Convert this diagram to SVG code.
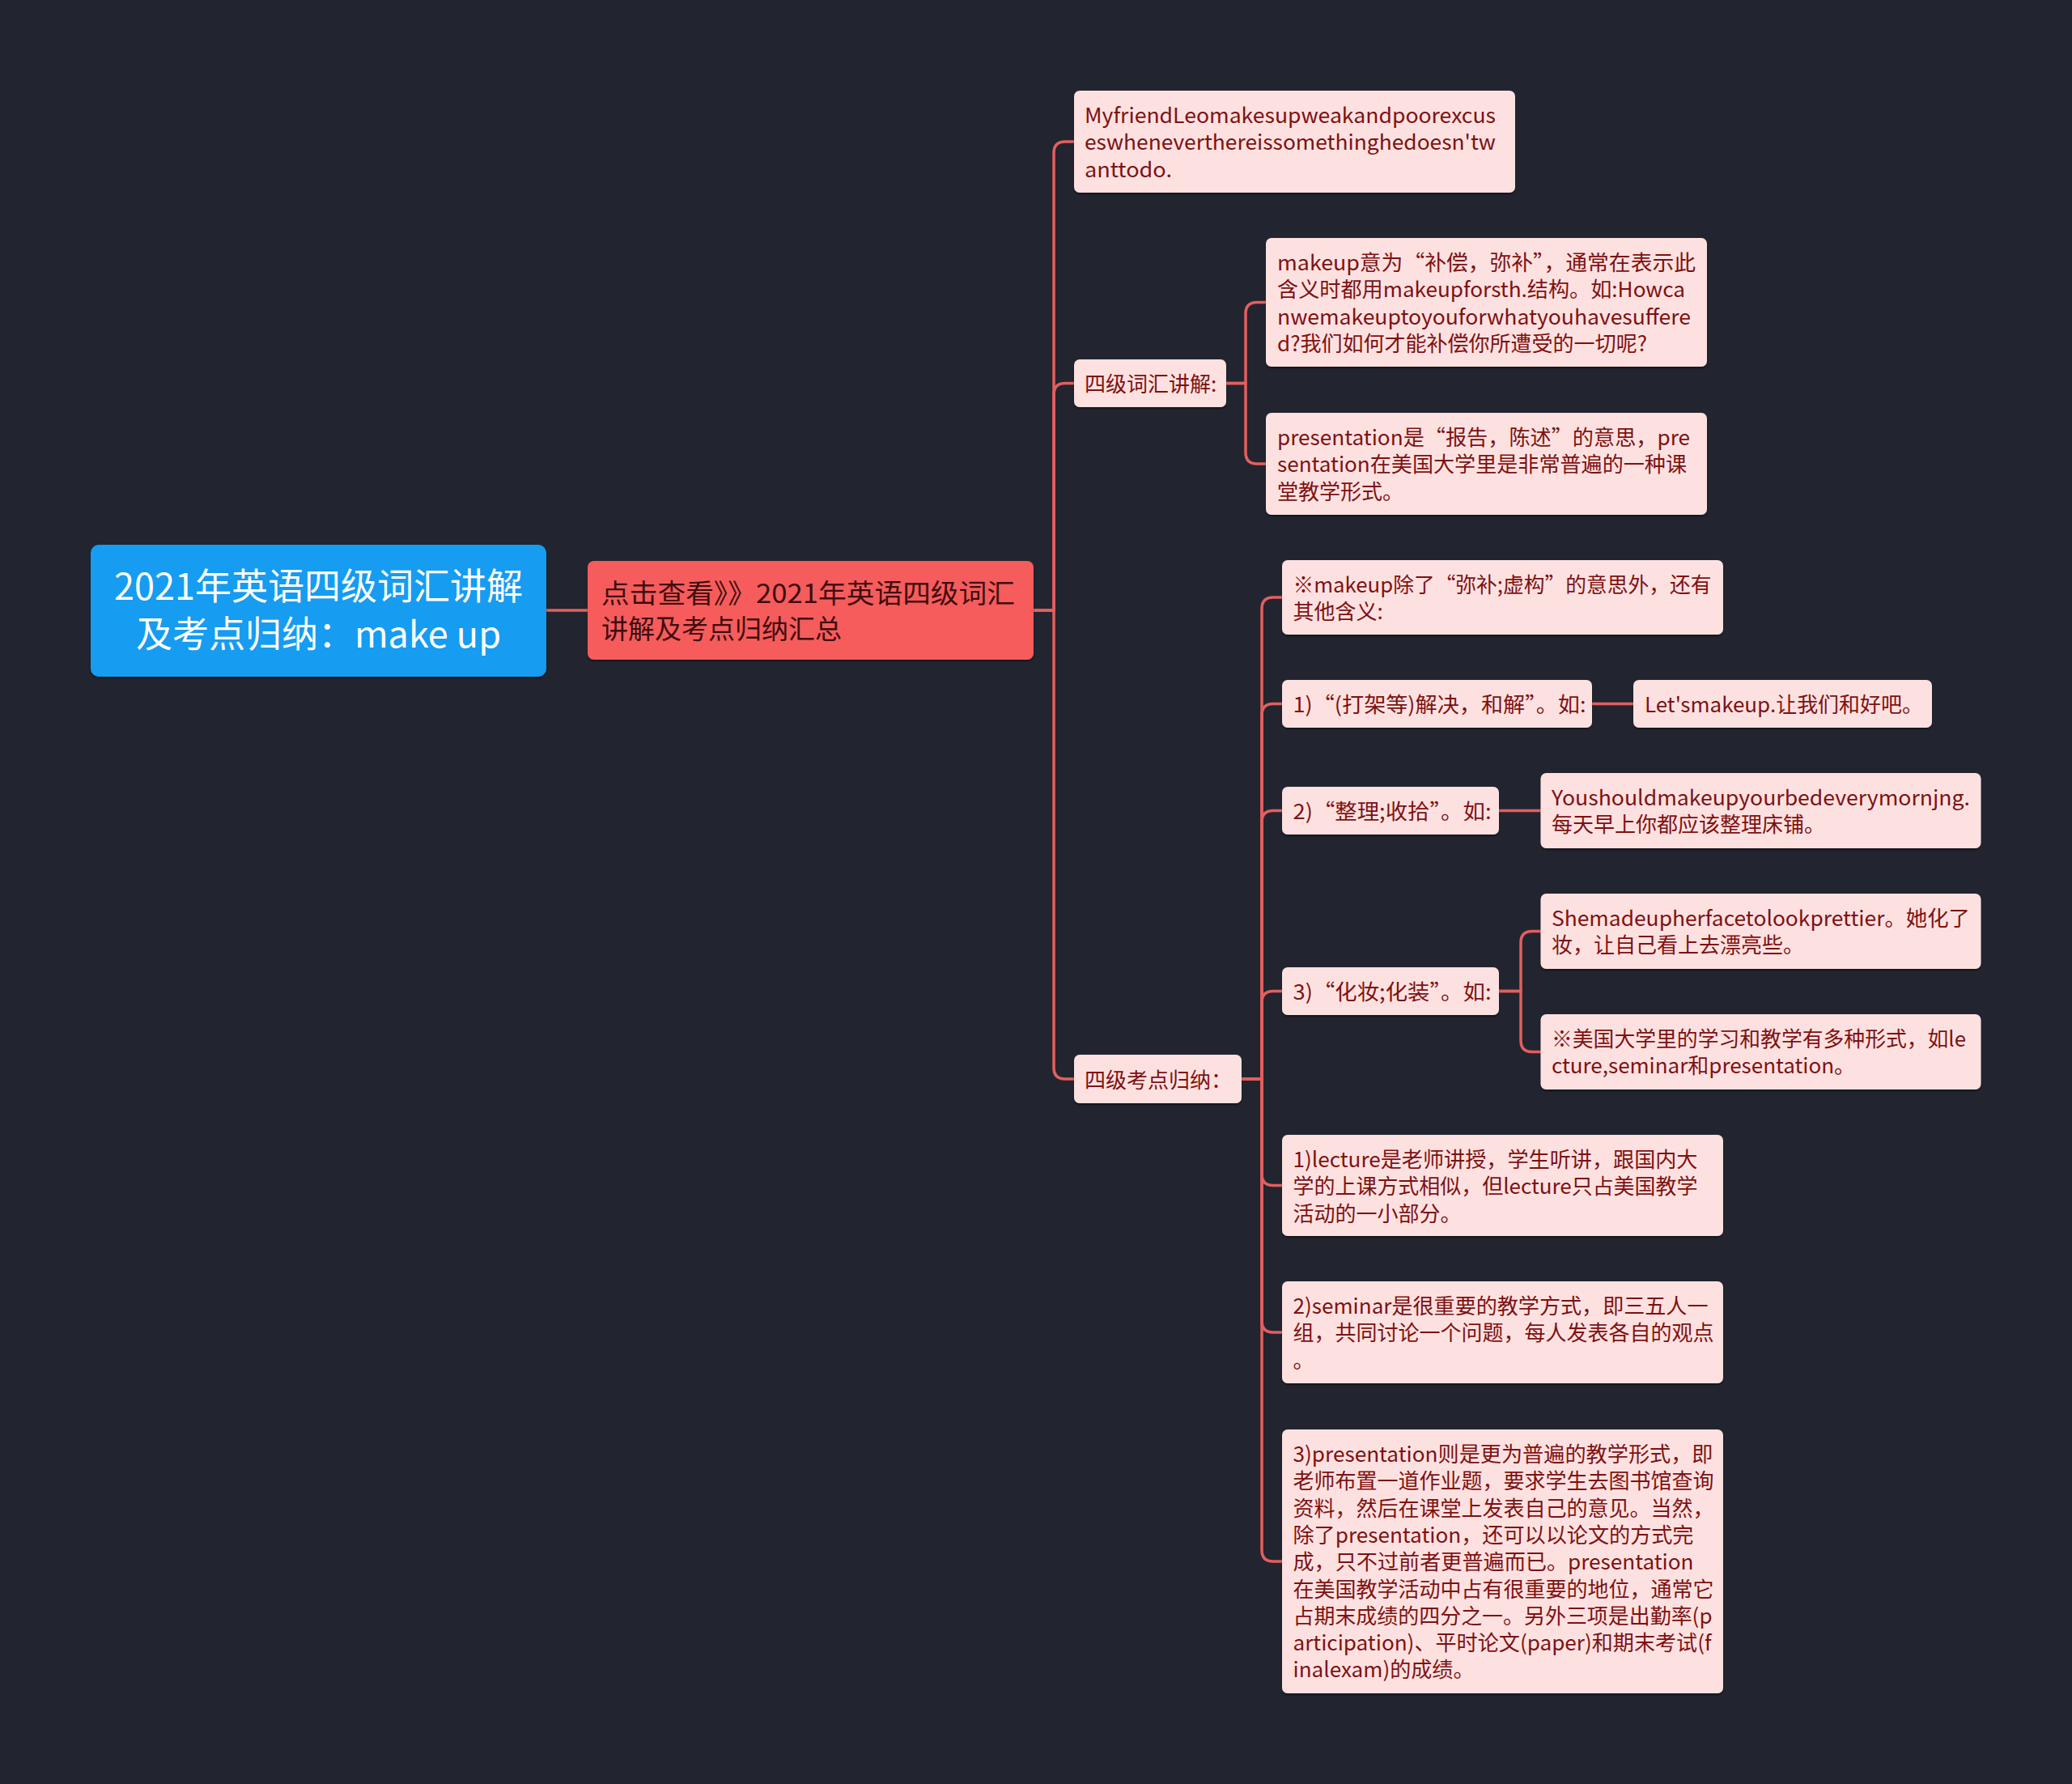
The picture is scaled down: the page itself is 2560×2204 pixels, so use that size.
<svg xmlns="http://www.w3.org/2000/svg" width="2560" height="2204" viewBox="0 0 2560 2204">
<defs>
<style>
.bg{fill:#22252f}
.leaf{fill:#fde1e1;filter:url(#sh)}
.t{font-family:"Noto Sans CJK SC","Noto Sans",sans-serif;font-size:26px;fill:#7e1111}
.rt{font-family:"Noto Sans CJK SC","Noto Sans",sans-serif;font-size:45px;fill:#ffffff;text-anchor:middle}
.st{font-family:"Noto Sans CJK SC","Noto Sans",sans-serif;font-size:33px;fill:#3f0d0d}
.c{fill:none;stroke:#e35f5f;stroke-width:3.5;stroke-linecap:round;stroke-linejoin:round}
</style>
<filter id="sh" x="-5%" y="-10%" width="110%" height="130%">
<feDropShadow dx="0" dy="2" stdDeviation="1.2" flood-color="#000" flood-opacity="0.45"/>
</filter>
</defs>
<rect class="bg" x="0" y="0" width="2560" height="2204"/>

<g id="connectors">
<path class="c" d="M675 754 H726"/>
<path class="c" d="M1277 754 H1302 V189 Q1302 175 1316 175 H1327"/>
<path class="c" d="M1277 754 H1302 V487.5 Q1302 473.5 1316 473.5 H1327"/>
<path class="c" d="M1277 754 H1302 V1319 Q1302 1333 1316 1333 H1327"/>
<path class="c" d="M1515 473.5 H1539 V387.5 Q1539 373.5 1553 373.5 H1564"/>
<path class="c" d="M1515 473.5 H1539 V559 Q1539 573 1553 573 H1564"/>
<path class="c" d="M1534 1333 H1559 V752 Q1559 738 1573 738 H1584"/>
<path class="c" d="M1534 1333 H1559 V883.5 Q1559 869.5 1573 869.5 H1584"/>
<path class="c" d="M1534 1333 H1559 V1015.5 Q1559 1001.5 1573 1001.5 H1584"/>
<path class="c" d="M1534 1333 H1559 V1238.5 Q1559 1224.5 1573 1224.5 H1584"/>
<path class="c" d="M1534 1333 H1559 V1450.5 Q1559 1464.5 1573 1464.5 H1584"/>
<path class="c" d="M1534 1333 H1559 V1632 Q1559 1646 1573 1646 H1584"/>
<path class="c" d="M1534 1333 H1559 V1915 Q1559 1929 1573 1929 H1584"/>
<path class="c" d="M1967 869.5 H2018"/>
<path class="c" d="M1852 1001.5 H1903.5"/>
<path class="c" d="M1852 1224.5 H1879 V1164.5 Q1879 1150.5 1893 1150.5 H1903.5"/>
<path class="c" d="M1852 1224.5 H1879 V1285.5 Q1879 1299.5 1893 1299.5 H1903.5"/>
</g>

<g id="root">
<rect x="112" y="673" width="563" height="163" rx="10" fill="#199cf1" filter="url(#sh)"/>
<text class="rt" x="393.5" y="741">2021年英语四级词汇讲解</text>
<text class="rt" x="393.5" y="800">及考点归纳：make up</text>
</g>

<g id="n-summary">
<rect x="726" y="693" width="551" height="122" rx="8" fill="#f65b5b" filter="url(#sh)"/>
<text class="st" x="743" y="744.5" textLength="511" lengthAdjust="spacingAndGlyphs">点击查看》》2021年英语四级词汇</text>
<text class="st" x="743" y="788.5">讲解及考点归纳汇总</text>
</g>

<g id="n-example">
<rect class="leaf" x="1327" y="112" width="545" height="126" rx="7"/>
<text class="t" x="1340" y="152" textLength="508" lengthAdjust="spacingAndGlyphs">MyfriendLeomakesupweakandpoorexcus</text>
<text class="t" x="1340" y="185.3" textLength="508" lengthAdjust="spacingAndGlyphs">eswheneverthereissomethinghedoesn'tw</text>
<text class="t" x="1340" y="218.6" textLength="108" lengthAdjust="spacingAndGlyphs">anttodo.</text>
</g>

<g id="n-vocab">
<rect class="leaf" x="1327" y="444" width="188" height="59" rx="7"/>
<text class="t" x="1340" y="484">四级词汇讲解:</text>
</g>

<g id="n-makeup">
<rect class="leaf" x="1564" y="294" width="545" height="159" rx="7"/>
<text class="t" x="1578" y="334" textLength="517" lengthAdjust="spacingAndGlyphs">makeup意为“补偿，弥补”，通常在表示此</text>
<text class="t" x="1578" y="367.3" textLength="504" lengthAdjust="spacingAndGlyphs">含义时都用makeupforsth.结构。如:Howca</text>
<text class="t" x="1578" y="400.6" textLength="511" lengthAdjust="spacingAndGlyphs">nwemakeuptoyouforwhatyouhavesuffere</text>
<text class="t" x="1578" y="433.9" textLength="457" lengthAdjust="spacingAndGlyphs">d?我们如何才能补偿你所遭受的一切呢?</text>
</g>

<g id="n-presentation">
<rect class="leaf" x="1564" y="510" width="545" height="126" rx="7"/>
<text class="t" x="1578" y="550" textLength="510" lengthAdjust="spacingAndGlyphs">presentation是“报告，陈述”的意思，pre</text>
<text class="t" x="1578" y="583.3" textLength="506" lengthAdjust="spacingAndGlyphs">sentation在美国大学里是非常普遍的一种课</text>
<text class="t" x="1578" y="616.6">堂教学形式。</text>
</g>

<g id="n-points">
<rect class="leaf" x="1327" y="1303" width="207" height="60" rx="7"/>
<text class="t" x="1340" y="1343.5">四级考点归纳：</text>
</g>

<g id="n-other">
<rect class="leaf" x="1584" y="692" width="545" height="92" rx="7"/>
<text class="t" x="1597.5" y="732" textLength="517" lengthAdjust="spacingAndGlyphs">※makeup除了“弥补;虚构”的意思外，还有</text>
<text class="t" x="1597.5" y="765.3">其他含义:</text>
</g>

<g id="n-m1">
<rect class="leaf" x="1584" y="840" width="383" height="59" rx="7"/>
<text class="t" x="1597.5" y="880" textLength="362" lengthAdjust="spacingAndGlyphs">1)“(打架等)解决，和解”。如:</text>
</g>

<g id="n-m1-ex">
<rect class="leaf" x="2018" y="840" width="369" height="59" rx="7"/>
<text class="t" x="2032" y="880" textLength="344" lengthAdjust="spacingAndGlyphs">Let'smakeup.让我们和好吧。</text>
</g>

<g id="n-m2">
<rect class="leaf" x="1584" y="972" width="268" height="59" rx="7"/>
<text class="t" x="1597.5" y="1012" textLength="245" lengthAdjust="spacingAndGlyphs">2)“整理;收拾”。如:</text>
</g>

<g id="n-m2-ex">
<rect class="leaf" x="1903.5" y="955" width="544" height="93" rx="7"/>
<text class="t" x="1917" y="995" textLength="517" lengthAdjust="spacingAndGlyphs">Youshouldmakeupyourbedeverymornjng.</text>
<text class="t" x="1917" y="1028.3">每天早上你都应该整理床铺。</text>
</g>

<g id="n-m3">
<rect class="leaf" x="1584" y="1195" width="268" height="59" rx="7"/>
<text class="t" x="1597.5" y="1235" textLength="245" lengthAdjust="spacingAndGlyphs">3)“化妆;化装”。如:</text>
</g>

<g id="n-m3-ex">
<rect class="leaf" x="1903.5" y="1104" width="544" height="93" rx="7"/>
<text class="t" x="1917" y="1144" textLength="517" lengthAdjust="spacingAndGlyphs">Shemadeupherfacetolookprettier。她化了</text>
<text class="t" x="1917" y="1177.3">妆，让自己看上去漂亮些。</text>
</g>

<g id="n-m3-note">
<rect class="leaf" x="1903.5" y="1253" width="544" height="93" rx="7"/>
<text class="t" x="1917" y="1293" textLength="512" lengthAdjust="spacingAndGlyphs">※美国大学里的学习和教学有多种形式，如le</text>
<text class="t" x="1917" y="1326.3" textLength="375" lengthAdjust="spacingAndGlyphs">cture,seminar和presentation。</text>
</g>

<g id="n-lecture">
<rect class="leaf" x="1584" y="1402" width="545" height="125" rx="7"/>
<text class="t" x="1597.5" y="1442" textLength="500" lengthAdjust="spacingAndGlyphs">1)lecture是老师讲授，学生听讲，跟国内大</text>
<text class="t" x="1597.5" y="1475.3" textLength="500" lengthAdjust="spacingAndGlyphs">学的上课方式相似，但lecture只占美国教学</text>
<text class="t" x="1597.5" y="1508.6">活动的一小部分。</text>
</g>

<g id="n-seminar">
<rect class="leaf" x="1584" y="1583" width="545" height="126" rx="7"/>
<text class="t" x="1597.5" y="1623" textLength="513" lengthAdjust="spacingAndGlyphs">2)seminar是很重要的教学方式，即三五人一</text>
<text class="t" x="1597.5" y="1656.3">组，共同讨论一个问题，每人发表各自的观点</text>
<text class="t" x="1597.5" y="1689.6">。</text>
</g>

<g id="n-pres">
<rect class="leaf" x="1584" y="1766" width="545" height="326" rx="7"/>
<text class="t" x="1597.5" y="1806" textLength="519" lengthAdjust="spacingAndGlyphs">3)presentation则是更为普遍的教学形式，即</text>
<text class="t" x="1597.5" y="1839.3">老师布置一道作业题，要求学生去图书馆查询</text>
<text class="t" x="1597.5" y="1872.6">资料，然后在课堂上发表自己的意见。当然，</text>
<text class="t" x="1597.5" y="1905.9" textLength="495" lengthAdjust="spacingAndGlyphs">除了presentation，还可以以论文的方式完</text>
<text class="t" x="1597.5" y="1939.2" textLength="495" lengthAdjust="spacingAndGlyphs">成，只不过前者更普遍而已。presentation</text>
<text class="t" x="1597.5" y="1972.5">在美国教学活动中占有很重要的地位，通常它</text>
<text class="t" x="1597.5" y="2005.8" textLength="518" lengthAdjust="spacingAndGlyphs">占期末成绩的四分之一。另外三项是出勤率(p</text>
<text class="t" x="1597.5" y="2039.1" textLength="517" lengthAdjust="spacingAndGlyphs">articipation)、平时论文(paper)和期末考试(f</text>
<text class="t" x="1597.5" y="2072.4" textLength="224" lengthAdjust="spacingAndGlyphs">inalexam)的成绩。</text>
</g>
</svg>
